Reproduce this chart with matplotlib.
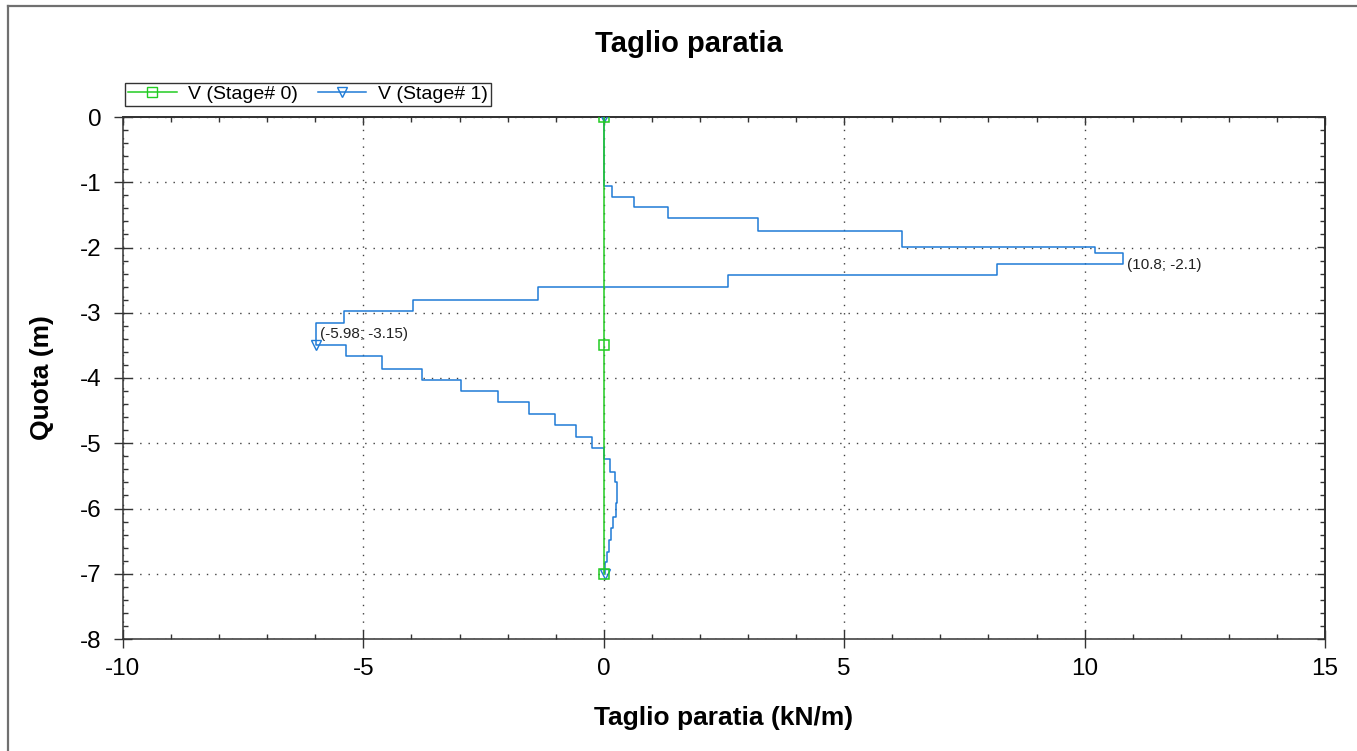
import numpy as np
import matplotlib
matplotlib.use("Agg")
import matplotlib.pyplot as plt
from matplotlib.ticker import MultipleLocator
from matplotlib.lines import Line2D

plt.rcParams['font.family'] = ['Liberation Sans', 'DejaVu Sans']
plt.rcParams['axes.unicode_minus'] = False

# ---------------- data ----------------
# Stage 0: zero shear along the wall
quota_0 = [0.0, -3.5, -7.0]
taglio_0 = [0.0, 0.0, 0.0]

# Stage 1: stepped shear diagram (top depth of each step, value on that step)
quota_top_1 = [0.0, -1.05, -1.22, -1.385, -1.555, -1.74, -1.985, -2.09, -2.26,
               -2.42, -2.60, -2.80, -2.975, -3.15, -3.50, -3.67, -3.855, -4.025,
               -4.195, -4.375, -4.55, -4.725, -4.91, -5.08, -5.245, -5.435,
               -5.60, -5.92, -6.13, -6.30, -6.48, -6.66, -6.82]
taglio_1 = [0.0, 0.17, 0.63, 1.33, 3.21, 6.20, 10.21, 10.8, 8.18,
            2.58, -1.375, -3.96, -5.41, -5.98, -5.37, -4.62, -3.78, -2.96,
            -2.21, -1.55, -1.01, -0.58, -0.245, 0.0, 0.13, 0.23,
            0.27, 0.26, 0.20, 0.15, 0.11, 0.07, 0.03]
quota_base_1 = -7.0

marker_depths = [0.0, -3.5, -7.0]
annotations = [(10.8, -2.1, "(10.8; -2.1)"), (-5.98, -3.15, "(-5.98; -3.15)")]

title = "Taglio paratia"
xlabel = "Taglio paratia (kN/m)"
ylabel = "Quota (m)"
legend_labels = ["V (Stage# 0)", "V (Stage# 1)"]

# ---------------- figure ----------------
W, H = 1357, 751
fig = plt.figure(figsize=(W / 100, H / 100), dpi=100)
L, R, T, B = 123, 1325, 117, 639
ax = fig.add_axes([L / W, 1 - B / H, (R - L) / W, (B - T) / H])

green = '#22CC22'
blue = '#1F7BD6'

# stage 1 vertices from steps
bottoms = quota_top_1[1:] + [quota_base_1]
xs, ys = [], []
for v, top, bot in zip(taglio_1, quota_top_1, bottoms):
    xs += [v, v]
    ys += [top, bot]
xs = np.array(xs); ys = np.array(ys)
mk_idx = [int(np.argmax(np.isclose(ys, d))) for d in marker_depths]
mk_idx[-1] = len(ys) - 1

ax.plot(xs, ys, color=blue, lw=1.1, marker='v', ms=7, mfc='none',
        mec=blue, mew=1.0, markevery=mk_idx, zorder=3)
ax.plot(taglio_0, quota_0, color=green, lw=1.1, marker='s', ms=7,
        mfc='none', mec=green, mew=1.1, zorder=4)

for x, y, txt in annotations:
    ax.annotate(txt, (x, y), xytext=(3, -8), textcoords='offset points',
                ha='left', va='center', fontsize=11, color='#222222')

ax.set_xlim(-10, 15)
ax.set_ylim(-8, 0)
ax.xaxis.set_major_locator(MultipleLocator(5))
ax.xaxis.set_minor_locator(MultipleLocator(1))
ax.yaxis.set_major_locator(MultipleLocator(1))
ax.yaxis.set_minor_locator(MultipleLocator(0.2))

ax.grid(True, which='major', color='#404040', lw=1.0, linestyle=(0, (1, 5)))
ax.set_axisbelow(True)

for s in ax.spines.values():
    s.set_linewidth(1.1)
    s.set_color('#333333')

ax.tick_params(which='major', direction='inout', length=13, width=1.0,
               labelsize=17.5, pad=7, color='#333333')
ax.tick_params(which='minor', direction='in', length=3.8, width=1.0, color='#333333')
ax.tick_params(axis='y', which='major', pad=9)

# top / right inward ticks
secx = ax.secondary_xaxis('top')
secx.xaxis.set_major_locator(MultipleLocator(5))
secx.xaxis.set_minor_locator(MultipleLocator(1))
secx.tick_params(which='major', direction='in', length=6, width=1.0, labeltop=False, color='#333333')
secx.tick_params(which='minor', direction='in', length=3.8, width=1.0, color='#333333')
secx.spines['top'].set_linewidth(1.1)
secy = ax.secondary_yaxis('right')
secy.yaxis.set_major_locator(MultipleLocator(1))
secy.yaxis.set_minor_locator(MultipleLocator(0.2))
secy.tick_params(which='major', direction='in', length=6, width=1.0, labelright=False, color='#333333')
secy.tick_params(which='minor', direction='in', length=3.8, width=1.0, color='#333333')
secy.spines['right'].set_linewidth(1.1)

ax.set_xlabel(xlabel, fontsize=19, fontweight='bold')
ax.set_ylabel(ylabel, fontsize=19, fontweight='bold')
ax.xaxis.set_label_coords(0.5, (B - 718) / (B - T))
ax.xaxis.label.set_va('center')
ax.yaxis.set_label_coords((42 - L) / (R - L), 0.5)
ax.yaxis.label.set_va('center')

fig.text(688.5 / W, 1 - 44 / H, title, ha='center', va='center',
         fontsize=21, fontweight='bold')

handles = [Line2D([], [], color=green, lw=1.1, marker='s', ms=7, mfc='none', mec=green),
           Line2D([], [], color=blue, lw=1.1, marker='v', ms=7, mfc='none', mec=blue)]
leg = ax.legend(handles, legend_labels, loc='lower left',
                bbox_to_anchor=((125 - L) / (R - L), (B - 106) / (B - T)),
                borderaxespad=0, ncol=2, fontsize=14, frameon=True, fancybox=False,
                edgecolor='black', handlelength=2.5, handletextpad=0.6,
                columnspacing=1.0, borderpad=0.15)
leg.get_frame().set_linewidth(1.0)

# window frame lines
fig.add_artist(Line2D([8 / W, 1], [1 - 5.5 / H, 1 - 5.5 / H], transform=fig.transFigure,
                      color='#707070', lw=1.6))
fig.add_artist(Line2D([8 / W, 8 / W], [0, 1 - 5.5 / H], transform=fig.transFigure,
                      color='#707070', lw=1.6))

fig.savefig('out.png', dpi=100)
